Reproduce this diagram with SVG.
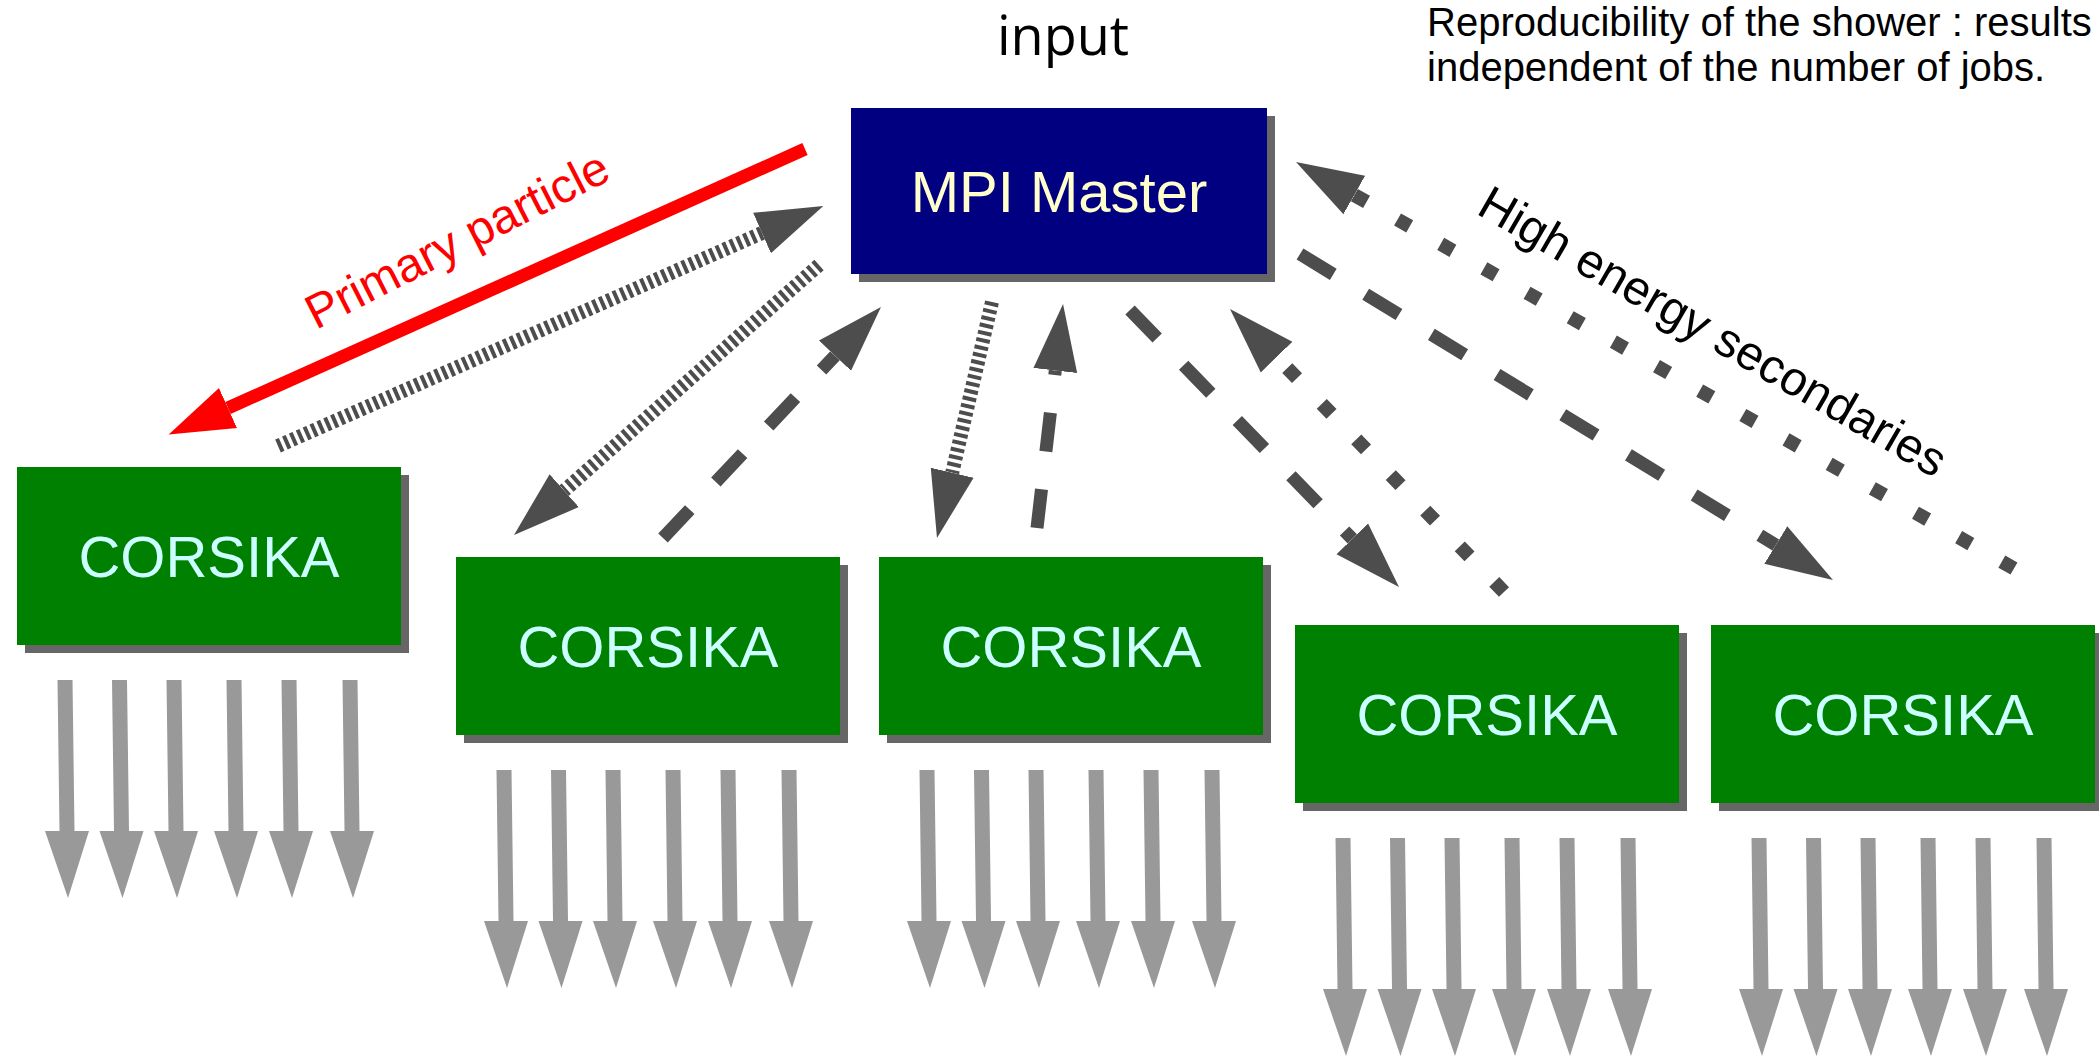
<svg xmlns="http://www.w3.org/2000/svg" width="2099" height="1064" viewBox="0 0 2099 1064">
<style>
.shadow{fill:#666666}
.master{fill:#000080}
.cors{fill:#008000}
.mtxt{font-family:"Liberation Sans",Arial,sans-serif;font-size:58px;fill:#ffffcc;text-anchor:middle}
.ctxt{font-family:"Liberation Sans",Arial,sans-serif;font-size:58px;fill:#ccffff;text-anchor:middle}
.lbl{font-family:"Liberation Sans",Arial,sans-serif;font-size:48px}
.note{font-family:"Liberation Sans",Arial,sans-serif;font-size:40px;fill:#000000}
.conn{fill:none;stroke:#4d4d4d;stroke-linecap:butt;marker-end:url(#ah)}
.hatch{stroke-width:14;stroke-dasharray:4 3.5}
.dash{stroke-width:13;stroke-dasharray:39 38}
.dot{stroke-width:14;stroke-dasharray:14 35.6}
.out{fill:#999999}
</style>
<defs>
<marker id="ah" markerUnits="userSpaceOnUse" viewBox="0 -23 68 46" refX="0" refY="0" markerWidth="68" markerHeight="46" orient="auto">
<path d="M0,-22 L67,0 L0,22 Z" fill="#4d4d4d"/>
</marker>
<marker id="ahr" markerUnits="userSpaceOnUse" viewBox="0 -23 66 46" refX="0" refY="0" markerWidth="66" markerHeight="46" orient="auto">
<path d="M0,-22 L65,0 L0,22 Z" fill="#ff0000"/>
</marker>
<path id="out" d="M-7.5,0 L7.5,0 L9.5,151 L24,151 L3,218 L-20,151 L-5.5,151 Z"/>
</defs>
<rect width="2099" height="1064" fill="#ffffff"/>

<text x="1063" y="55" style="font-family:'Open Sans','Noto Sans',sans-serif;font-size:54px;text-anchor:middle;fill:#000000">input</text>
<text class="note" x="1427" y="36">Reproducibility of the shower : results</text>
<text class="note" x="1427" y="81">independent of the number of jobs.</text>

<g id="master">
<rect class="shadow" x="859" y="116" width="416" height="166"/>
<rect class="master" x="851" y="108" width="416" height="166"/>
<text class="mtxt" x="1059" y="212">MPI Master</text>
</g>

<g id="corsika1">
<rect class="shadow" x="25" y="475" width="384" height="178"/>
<rect class="cors" x="17" y="467" width="384" height="178"/>
<text class="ctxt" x="209" y="577">CORSIKA</text>
</g>
<g id="corsika2">
<rect class="shadow" x="464" y="565" width="384" height="178"/>
<rect class="cors" x="456" y="557" width="384" height="178"/>
<text class="ctxt" x="648" y="667">CORSIKA</text>
</g>
<g id="corsika3">
<rect class="shadow" x="887" y="565" width="384" height="178"/>
<rect class="cors" x="879" y="557" width="384" height="178"/>
<text class="ctxt" x="1071" y="667">CORSIKA</text>
</g>
<g id="corsika4">
<rect class="shadow" x="1303" y="633" width="384" height="178"/>
<rect class="cors" x="1295" y="625" width="384" height="178"/>
<text class="ctxt" x="1487" y="735">CORSIKA</text>
</g>
<g id="corsika5">
<rect class="shadow" x="1719" y="633" width="384" height="178"/>
<rect class="cors" x="1711" y="625" width="384" height="178"/>
<text class="ctxt" x="1903" y="735">CORSIKA</text>
</g>

<g id="connectors">
<path d="M805,149 L228,408" fill="none" stroke="#ff0000" stroke-width="13" marker-end="url(#ahr)"/>
<path class="conn hatch" d="M278,446 L762,233"/>
<path class="conn hatch" d="M819,265 L564.2,490.6"/>
<path class="conn hatch" d="M992,302 L952.2,472.7"/>
<path class="conn dash" d="M663,538 L835,355.7"/>
<path class="conn dash" d="M1037,528 L1055.3,370.5"/>
<path class="conn dash" d="M1130,310 L1352.3,538.9"/>
<path class="conn dash" d="M1300,254 L1775.8,545"/>
<path class="conn dot" d="M1504,592 L1276.6,357.1"/>
<path class="conn dot" d="M2014,568.5 L1354.3,195"/>

<g class="out">
<use href="#out" x="65" y="680"/><use href="#out" x="119.5" y="680"/><use href="#out" x="174" y="680"/><use href="#out" x="234" y="680"/><use href="#out" x="289" y="680"/><use href="#out" x="350" y="680"/>
<use href="#out" x="504" y="770"/><use href="#out" x="558.5" y="770"/><use href="#out" x="613" y="770"/><use href="#out" x="673" y="770"/><use href="#out" x="728" y="770"/><use href="#out" x="789" y="770"/>
<use href="#out" x="927" y="770"/><use href="#out" x="981.5" y="770"/><use href="#out" x="1036" y="770"/><use href="#out" x="1096" y="770"/><use href="#out" x="1151" y="770"/><use href="#out" x="1212" y="770"/>
<use href="#out" x="1343" y="838"/><use href="#out" x="1397.5" y="838"/><use href="#out" x="1452" y="838"/><use href="#out" x="1512" y="838"/><use href="#out" x="1567" y="838"/><use href="#out" x="1628" y="838"/>
<use href="#out" x="1759" y="838"/><use href="#out" x="1813.5" y="838"/><use href="#out" x="1868" y="838"/><use href="#out" x="1928" y="838"/><use href="#out" x="1983" y="838"/><use href="#out" x="2044" y="838"/>
</g>
</g>

<text class="lbl" x="316" y="330" fill="#ff0000" transform="rotate(-27 316 330)">Primary particle</text>
<text class="lbl" x="1475" y="213" fill="#000000" transform="rotate(30 1475 213)">High energy secondaries</text>
</svg>
